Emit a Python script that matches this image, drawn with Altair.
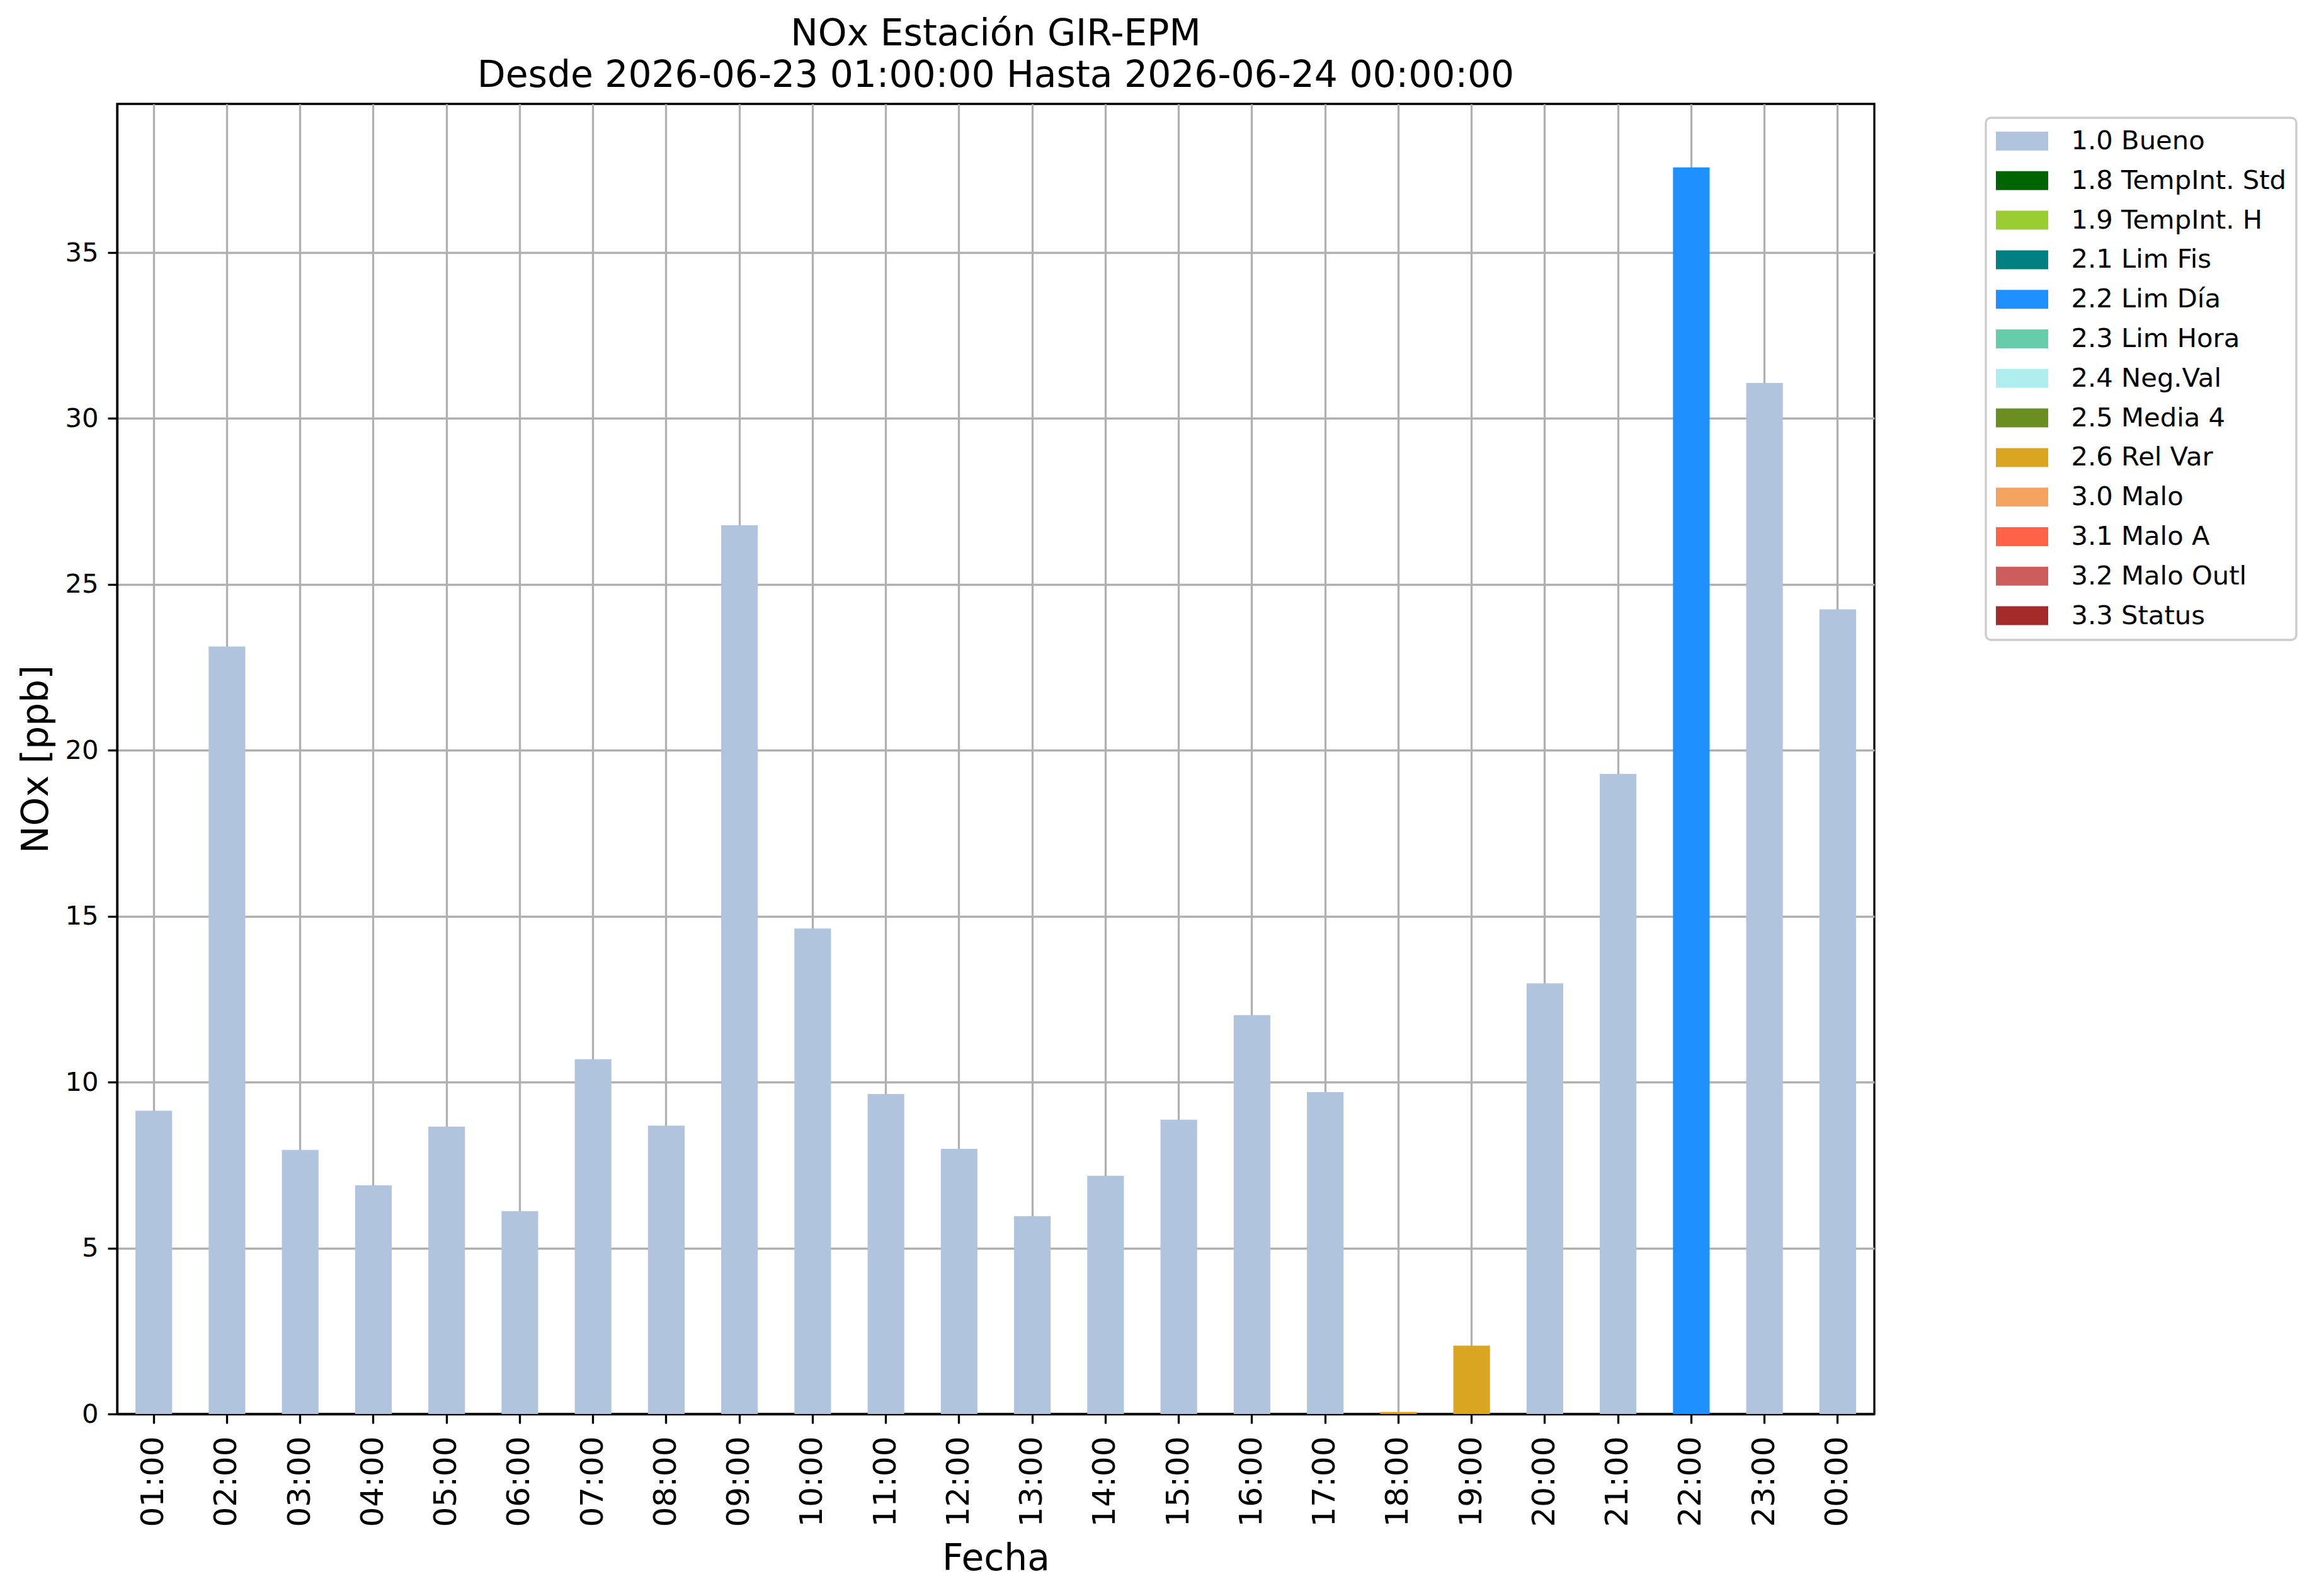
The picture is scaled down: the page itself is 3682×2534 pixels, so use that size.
import altair as alt
import pandas as pd

hours = ["01:00", "02:00", "03:00", "04:00", "05:00", "06:00", "07:00", "08:00",
         "09:00", "10:00", "11:00", "12:00", "13:00", "14:00", "15:00", "16:00",
         "17:00", "18:00", "19:00", "20:00", "21:00", "22:00", "23:00", "00:00"]
values = [9.14, 23.13, 7.96, 6.89, 8.66, 6.11, 10.69, 8.69, 26.78, 14.63, 9.64, 7.99,
          5.96, 7.18, 8.87, 12.02, 9.70, 0.06, 2.06, 12.98, 19.29, 37.57, 31.07, 24.25]
flags = ["1.0 Bueno"] * 17 + ["2.6 Rel Var", "2.6 Rel Var", "1.0 Bueno", "1.0 Bueno",
                              "2.2 Lim Día", "1.0 Bueno", "1.0 Bueno"]

categories = ["1.0 Bueno", "1.8 TempInt. Std", "1.9 TempInt. H", "2.1 Lim Fis",
              "2.2 Lim Día", "2.3 Lim Hora", "2.4 Neg.Val", "2.5 Media 4",
              "2.6 Rel Var", "3.0 Malo", "3.1 Malo A", "3.2 Malo Outl", "3.3 Status"]
colors = ["#B0C4DE", "#006400", "#9ACD32", "#008080", "#1E90FF", "#66CDAA",
          "#AFEEEE", "#6B8E23", "#DAA520", "#F4A460", "#FF6347", "#CD5C5C", "#A52A2A"]

y_ticks = [0, 5, 10, 15, 20, 25, 30, 35]

df = pd.DataFrame({"Fecha": hours, "NOx": values, "Flag": flags})

FONT = "DejaVu Sans"
W, H = 2790, 2080

chart = alt.Chart(df).mark_bar(strokeWidth=0).encode(
    x=alt.X("Fecha:N", sort=hours,
            scale=alt.Scale(paddingInner=0.5, paddingOuter=0.25),
            axis=alt.Axis(title="Fecha", labelAngle=270, grid=True, bandPosition=0.5,
                          labelFontSize=50, labelPadding=20,
                          titleX=W / 2, titleY=247, titleBaseline="alphabetic",
                          titleAlign="center")),
    y=alt.Y("NOx:Q", stack=None,
            scale=alt.Scale(domain=[0, 39.48], nice=False, zero=True),
            axis=alt.Axis(title="NOx [ppb]", values=y_ticks, format="d", grid=True,
                          labelFontSize=41.7, labelPadding=15,
                          titleAngle=270, titleX=-111, titleY=H / 2,
                          titleBaseline="alphabetic", titleAlign="center")),
    color=alt.Color("Flag:N",
                    scale=alt.Scale(domain=categories, range=colors),
                    legend=alt.Legend(title=None, orient="none",
                                      legendX=2967, legendY=22,
                                      symbolType="M-1.976,-0.714L1.976,-0.714L1.976,0.714L-1.976,0.714Z",
                                      symbolSize=1764, symbolStrokeWidth=0,
                                      symbolOpacity=1,
                                      symbolOffset=20.5, labelOffset=57,
                                      rowPadding=19.8, padding=16,
                                      labelFont=FONT, labelFontSize=41.7,
                                      labelColor="black", labelLimit=800,
                                      strokeColor="#cccccc", fillColor="white",
                                      cornerRadius=8)),
).properties(
    width=W,
    height=H,
    title=alt.TitleParams(
        text=["NOx Estación GIR-EPM",
              "Desde 2026-06-23 01:00:00 Hasta 2026-06-24 00:00:00"],
        font=FONT, fontSize=58.3, fontWeight="normal", color="black",
        lineHeight=66, baseline="alphabetic", offset=23, dy=54, anchor="middle",
        frame="group"),
    autosize=alt.AutoSizeParams(type="none"),
    padding={"left": 178, "top": 157, "right": 690, "bottom": 275},
).configure(
    background="white",
).configure_view(
    stroke="black", strokeWidth=3.3, fill="white",
).configure_axis(
    zindex=1,
    labelFont=FONT, labelColor="black",
    titleFont=FONT, titleFontSize=58.3, titleFontWeight="normal", titleColor="black",
    domainColor="black", domainWidth=3.3,
    tickColor="black", tickWidth=3.3, tickSize=15,
    gridColor="#b0b0b0", gridWidth=3.3, gridOpacity=1,
).configure_legend(
    strokeWidth=3.3,
)

chart.save("out.html", embed_options={"renderer": "svg", "actions": False})
